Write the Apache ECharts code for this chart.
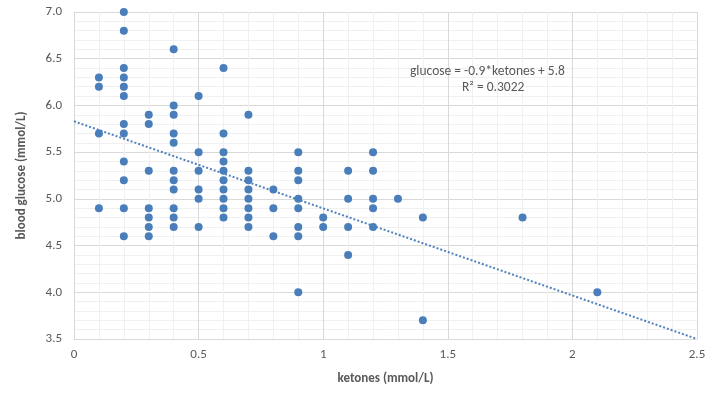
<!DOCTYPE html>
<html>
<head>
<meta charset="utf-8">
<script src="https://cdn.jsdelivr.net/npm/echarts@6/dist/echarts.min.js"></script>
<style>
  html, body { margin: 0; padding: 0; background: #fff; }
  #content { width: 711px; height: 397px; }
</style>
</head>
<body>
<div id="content"></div>
<script>
// ketones (mmol/L) -> blood glucose (mmol/L), grouped by ketone column
var ketoneCols = [0.1, 0.2, 0.3, 0.4, 0.5, 0.6, 0.7, 0.8, 0.9, 1.0, 1.1, 1.2, 1.3, 1.4, 1.8, 2.1];
var glucoseCols = [
  [6.3, 6.2, 5.7, 4.9],
  [7.0, 6.8, 6.4, 6.3, 6.2, 6.1, 5.8, 5.7, 5.4, 5.2, 4.9, 4.6],
  [5.9, 5.8, 5.3, 4.9, 4.8, 4.7, 4.6],
  [6.6, 6.0, 5.9, 5.7, 5.6, 5.3, 5.2, 5.1, 4.9, 4.8, 4.7],
  [6.1, 5.5, 5.3, 5.1, 5.0, 4.7],
  [6.4, 5.7, 5.5, 5.4, 5.3, 5.2, 5.1, 5.0, 4.9, 4.8],
  [5.9, 5.3, 5.2, 5.1, 5.0, 4.9, 4.8, 4.7],
  [5.1, 4.9, 4.6],
  [5.5, 5.3, 5.2, 5.0, 4.9, 4.7, 4.6, 4.0],
  [4.8, 4.7],
  [5.3, 5.0, 4.7, 4.4],
  [5.5, 5.3, 5.0, 4.9, 4.7],
  [5.0],
  [4.8, 3.7],
  [4.8],
  [4.0]
];
// linear trendline end points (Excel fit)
var trendX = [0, 2.5];
var trendY = [5.83, 3.5];
var xTicks = [0, 0.5, 1, 1.5, 2, 2.5];
var yTicks = [3.5, 4.0, 4.5, 5.0, 5.5, 6.0, 6.5, 7.0];

var points = [];
ketoneCols.forEach(function (k, i) {
  glucoseCols[i].forEach(function (g) { points.push([k, g]); });
});
var trend = trendX.map(function (x, i) { return [x, trendY[i]]; });

var font = "Carlito, Lato, 'Open Sans', sans-serif";
var myChart = echarts.init(document.getElementById("content"));
var option = {
  animation: false,
  textStyle: { fontFamily: font },
  grid: { left: 74, right: 14, top: 12, bottom: 58 },
  xAxis: {
    type: "value",
    min: xTicks[0],
    max: xTicks[xTicks.length - 1],
    interval: 0.5,
    name: "ketones (mmol/L)",
    nameLocation: "middle",
    nameGap: 33,
    nameTextStyle: { color: "#595959", fontSize: 13, fontWeight: "bold", fontFamily: font },
    axisLine: { lineStyle: { color: "#d9d9d9" } },
    axisTick: { show: false },
    axisLabel: { color: "#595959", fontSize: 13, margin: 9 },
    splitLine: { lineStyle: { color: "#d9d9d9" } },
    minorTick: { show: false, splitNumber: 5 },
    minorSplitLine: { show: true, lineStyle: { color: "#f0f0f0" } },
  },
  yAxis: {
    type: "value",
    min: yTicks[0],
    max: yTicks[yTicks.length - 1],
    interval: 0.5,
    name: "blood glucose (mmol/L)",
    nameLocation: "middle",
    nameGap: 46,
    nameTextStyle: { color: "#595959", fontSize: 13, fontWeight: "bold", fontFamily: font },
    axisLine: { show: true, lineStyle: { color: "#d9d9d9" } },
    axisTick: { show: false },
    axisLabel: {
      color: "#595959", fontSize: 13, margin: 12,
      formatter: function (v) { return v.toFixed(1); },
    },
    splitLine: { lineStyle: { color: "#d9d9d9" } },
    minorTick: { show: false, splitNumber: 5 },
    minorSplitLine: { show: true, lineStyle: { color: "#f0f0f0" } },
  },
  graphic: [
    {
      type: "text", left: 410, top: 65, z: 100,
      style: { text: "glucose = -0.9*ketones + 5.8", fill: "#595959", fontSize: 13.5, fontFamily: font },
    },
    {
      type: "text", left: 462, top: 81, z: 100,
      style: { text: "R² = 0.3022", fill: "#595959", fontSize: 13.5, fontFamily: font },
    },
  ],
  series: [
    {
      type: "scatter",
      data: points,
      symbolSize: 8,
      itemStyle: { color: "#4a7ebb", opacity: 1 },
      z: 3,
    },
    {
      type: "line",
      data: trend,
      symbol: "none",
      lineStyle: { color: "#4f81bd", width: 2, type: [2, 2] },
      z: 2,
    },
  ],
};
myChart.setOption(option);
</script>
</body>
</html>
